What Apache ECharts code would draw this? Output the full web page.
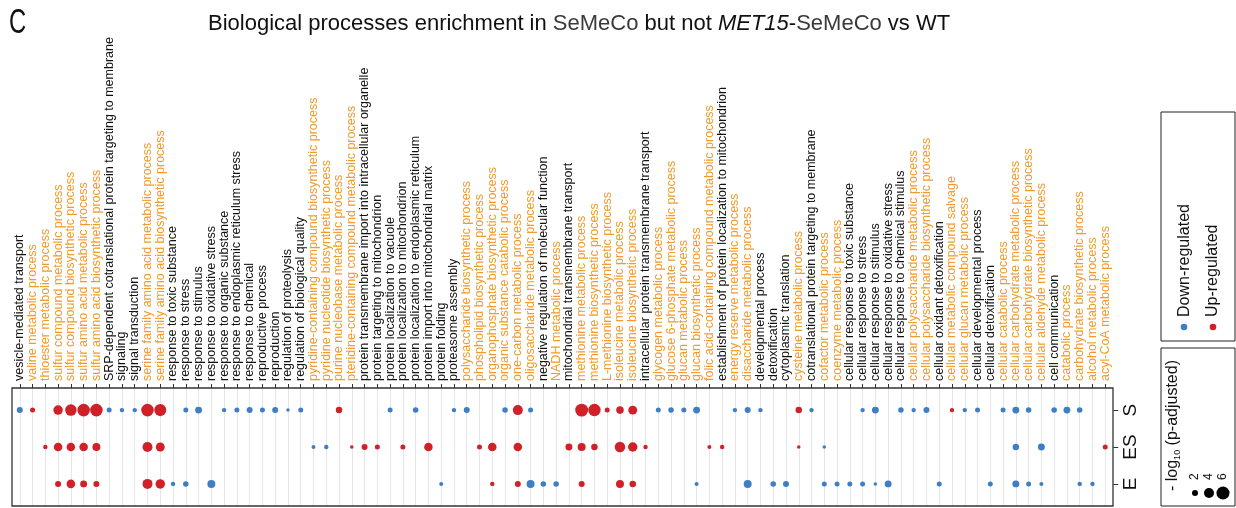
<!DOCTYPE html>
<html><head><meta charset="utf-8">
<script src="https://cdn.jsdelivr.net/npm/echarts@6/dist/echarts.min.js"></script>
<style>html,body{margin:0;padding:0;background:#fff}#c{width:1236px;height:508px}</style>
</head><body><div id="c"></div>
<script>
// ---------------- DATA ----------------
const categories = [
  'vesicle-mediated transport','valine metabolic process','thioester metabolic process',
  'sulfur compound metabolic process','sulfur compound biosynthetic process',
  'sulfur amino acid metabolic process','sulfur amino acid biosynthetic process',
  'SRP-dependent cotranslational protein targeting to membrane','signaling','signal transduction',
  'serine family amino acid metabolic process','serine family amino acid biosynthetic process',
  'response to toxic substance','response to stress','response to stimulus','response to oxidative stress',
  'response to organic substance','response to endoplasmic reticulum stress','response to chemical',
  'reproductive process','reproduction','regulation of proteolysis','regulation of biological quality',
  'pyridine-containing compound biosynthetic process','pyridine nucleotide biosynthetic process',
  'purine nucleobase metabolic process','pteridine-containing compound metabolic process',
  'protein transmembrane import into intracellular organelle','protein targeting to mitochondrion',
  'protein localization to vacuole','protein localization to mitochondrion',
  'protein localization to endoplasmic reticulum','protein import into mitochondrial matrix',
  'protein folding','proteasome assembly','polysaccharide biosynthetic process',
  'phospholipid biosynthetic process','organophosphate biosynthetic process',
  'organic substance catabolic process','one-carbon metabolic process','oligosaccharide metabolic process',
  'negative regulation of molecular function','NADH metabolic process','mitochondrial transmembrane transport',
  'methionine metabolic process','methionine biosynthetic process','L-methionine biosynthetic process',
  'isoleucine metabolic process','isoleucine biosynthetic process','intracellular protein transmembrane transport',
  'glycogen metabolic process','glucose 6-phosphate metabolic process','glucan metabolic process',
  'glucan biosynthetic process','folic acid-containing compound metabolic process',
  'establishment of protein localization to mitochondrion','energy reserve metabolic process',
  'disaccharide metabolic process','developmental process','detoxification','cytoplasmic translation',
  'cysteine metabolic process','cotranslational protein targeting to membrane','cofactor metabolic process',
  'coenzyme metabolic process','cellular response to toxic substance','cellular response to stress',
  'cellular response to stimulus','cellular response to oxidative stress','cellular response to chemical stimulus',
  'cellular polysaccharide metabolic process','cellular polysaccharide biosynthetic process',
  'cellular oxidant detoxification','cellular metabolic compound salvage','cellular glucan metabolic process',
  'cellular developmental process','cellular detoxification','cellular catabolic process',
  'cellular carbohydrate metabolic process','cellular carbohydrate biosynthetic process',
  'cellular aldehyde metabolic process','cell communication','catabolic process',
  'carbohydrate biosynthetic process','alcohol metabolic process','acyl-CoA metabolic process'
];
// 1 = label drawn in orange, 0 = black
const orangeLabel = [
  0,1,1,1,1,1,1,0,0,0,
  1,1,0,0,0,0,0,0,0,0,
  0,0,0,1,1,1,1,0,0,0,
  0,0,0,0,0,1,1,1,1,1,
  1,0,1,0,1,1,1,1,1,0,
  1,1,1,1,1,0,1,1,0,0,
  0,1,0,1,1,0,0,0,0,0,
  1,1,0,1,1,0,0,1,1,1,
  1,0,1,1,1,1
];
const rows = ['E','ES','S'];
// -log10(p-adjusted); positive = Up-regulated, negative = Down-regulated, 0 = not enriched
const valuesS = [
  -2.0, 1.6, 0, 3.7, 4.9, 5.7, 5.7, -1.6, -1.4, -1.4,
  5.7, 5.3, 0, -1.6, -2.4, 0, -1.4, -1.6, -2.0, -1.6,
  -2.0, -1.1, -1.6, 0, 0, 2.2, 0, 0, 0, -1.6,
  0, -1.8, 0, 0, -1.4, -2.0, 0, 0, -1.8, 4.0,
  -1.6, 0, 0, 0, 5.9, 5.6, 1.6, 2.7, 3.4, 0,
  -1.6, -1.8, -1.6, -2.4, 0, 0, -1.4, -2.0, -1.4, 0,
  0, 2.2, -1.4, 0, 0, 0, -1.4, -2.4, 0, -1.8,
  -1.4, -2.0, 0, 1.4, -1.4, -1.6, 0, -1.6, -2.4, -1.8,
  0, -1.8, -2.4, -1.8, 0, 0
];
const valuesES = [
  0, 0, 1.4, 3.2, 3.2, 3.2, 2.9, 0, 0, 0,
  4.0, 3.4, 0, 0, 0, 0, 0, 0, 0, 0,
  0, 0, 0, -1.25, -1.4, 0, 1.1, 2.0, 1.6, 0,
  1.6, 0, 3.2, 0, 0, 0, 1.6, 3.2, 0, 3.2,
  0, 0, 0, 2.4, 2.9, 2.2, 0, 4.3, 3.7, 1.4,
  0, 0, 0, 0, 1.25, 1.4, 0, 0, 0, 0,
  0, 1.1, 0, -1.1, 0, 0, 0, 0, 0, 0,
  0, 0, 0, 0, 0, 0, 0, 0, -2.2, 0,
  -2.4, 0, 0, 0, 0, 1.6
];
const valuesE = [
  0, 0, 0, 2.0, 3.2, 2.4, 2.0, 0, 0, 0,
  4.0, 3.7, -1.4, -1.8, 0, -2.9, 0, 0, 0, 0,
  0, 0, 0, 0, 0, 0, 0, 0, 0, 0,
  0, 0, 0, -1.25, 0, 0, 0, 1.4, 0, 2.0,
  -2.9, -1.8, -1.8, 0, 2.0, 0, 0, 2.9, 2.2, 0,
  0, 0, 0, -1.25, 0, 0, 0, -2.9, 0, -1.8,
  -2.0, 0, 0, -1.6, -1.6, -1.6, -1.6, -1.1, -2.4, 0,
  0, 0, -1.6, 0, 0, 0, -1.6, 0, -2.4, -1.6,
  -1.25, 0, 0, -1.4, -1.4, 0
];
const sizeLegendValues = [2, 4, 6];
const legendNames = ['Down-regulated', 'Up-regulated'];

// ---------------- STYLE ----------------
const FONT = "'Liberation Sans', Arial, Helvetica, sans-serif";
const C_DOWN = '#3F7EC5', C_UP = '#D12028', C_ORANGE = '#F39A2B', C_TEXT = '#111111';
function dotSize(v) { return Math.max(2, 6.8 * Math.sqrt(v) - 3.6); }

const rowValues = { S: valuesS, ES: valuesES, E: valuesE };
const upData = [], downData = [];
rows.forEach(function (r) {
  rowValues[r].forEach(function (v, i) {
    if (v > 0) upData.push([i, r, v]);
    else if (v < 0) downData.push([i, r, -v]);
  });
});

const labelData = categories.map(function (c, i) {
  return { value: c, textStyle: { color: orangeLabel[i] ? C_ORANGE : C_TEXT } };
});

const BAND = 12.77, N = categories.length;
const chart = echarts.init(document.getElementById('c'), null, { renderer: 'canvas' });

const graphics = [
  { type: 'text', x: 9, y: 6, scaleX: 0.68,
    style: { text: 'C', font: 'normal 35px ' + FONT, fill: C_TEXT, align: 'left', verticalAlign: 'top', textAlign: 'left', textVerticalAlign: 'top' } },
  { type: 'rect', z: 50, shape: { x: 12, y: 388, width: 1101, height: 118 },
    style: { fill: 'none', stroke: '#333', lineWidth: 1.3 } },
  // colour legend
  { type: 'rect', z: 50, shape: { x: 1161, y: 112, width: 74, height: 229 },
    style: { fill: 'none', stroke: '#222', lineWidth: 1 } },
  { type: 'text', x: 1185, y: 317, rotation: Math.PI / 2,
    style: { text: legendNames[0], font: '16px ' + FONT, fill: C_TEXT, align: 'left', verticalAlign: 'middle', textAlign: 'left', textVerticalAlign: 'middle' } },
  { type: 'text', x: 1213, y: 317, rotation: Math.PI / 2,
    style: { text: legendNames[1], font: '16px ' + FONT, fill: C_TEXT, align: 'left', verticalAlign: 'middle', textAlign: 'left', textVerticalAlign: 'middle' } },
  { type: 'circle', shape: { cx: 1184, cy: 327, r: 3.3 }, style: { fill: C_DOWN } },
  { type: 'circle', shape: { cx: 1213, cy: 327, r: 3.3 }, style: { fill: C_UP } },
  // size legend
  { type: 'rect', z: 50, shape: { x: 1161, y: 348, width: 74, height: 158 },
    style: { fill: 'none', stroke: '#222', lineWidth: 1 } },
  { type: 'text', x: 1173, y: 491, rotation: Math.PI / 2,
    style: { text: '{a|- log}{b|10}{a| (p-adjusted)}', align: 'left', verticalAlign: 'middle', textAlign: 'left', textVerticalAlign: 'middle',
      rich: { a: { fontSize: 16, fontFamily: FONT, fill: C_TEXT, color: C_TEXT, lineHeight: 18, verticalAlign: 'middle' },
              b: { fontSize: 9, fontFamily: FONT, fill: C_TEXT, color: C_TEXT, lineHeight: 18, verticalAlign: 'bottom' } } } }
];
const sizeX = [1195, 1209, 1223];
sizeLegendValues.forEach(function (v, i) {
  graphics.push({ type: 'circle', shape: { cx: sizeX[i], cy: 493, r: dotSize(v) / 2 }, style: { fill: '#000' } });
  graphics.push({ type: 'text', x: sizeX[i], y: 480, rotation: Math.PI / 2,
    style: { text: String(v), font: '12px ' + FONT, fill: C_TEXT, align: 'left', verticalAlign: 'middle', textAlign: 'left', textVerticalAlign: 'middle' } });
});

const option = {
  animation: false,
  backgroundColor: '#fff',
  textStyle: { fontFamily: FONT },
  title: [
    { text: '{n|Biological processes enrichment in }{g|SeMeCo}{n| but not }{i|MET15}{n|-}{g|SeMeCo}{n| vs WT}',
      left: 203, top: 8,
      textStyle: { fontWeight: 'normal', rich: {
        n: { fontSize: 22, color: C_TEXT, fontFamily: FONT, fontWeight: 'normal' },
        g: { fontSize: 22, color: '#3a3a3a', fontFamily: FONT, fontWeight: 'normal' },
        i: { fontSize: 22, color: C_TEXT, fontStyle: 'italic', fontFamily: FONT, fontWeight: 'normal' } } } }
  ],
  grid: [
    { left: 13.4, top: 391.65, width: BAND * N, height: 110.7, show: false, containLabel: false, outerBoundsMode: 'none' },
    { left: 13.4 + BAND / 2, top: 388, width: BAND * (N - 1), height: 118, show: false, containLabel: false, outerBoundsMode: 'none' }
  ],
  xAxis: [
    { gridIndex: 0, type: 'category', data: categories, show: false },
    { gridIndex: 1, type: 'category', data: labelData, position: 'top', boundaryGap: false,
      axisLine: { show: false, onZero: false },
      axisTick: { show: true, length: 4, lineStyle: { color: '#333', width: 1 } },
      axisLabel: { rotate: -90, interval: 0, fontSize: 12.5, fontFamily: FONT, margin: 7, hideOverlap: false },
      splitLine: { show: true, interval: 0, lineStyle: { color: '#E6E6E6', width: 1 } } }
  ],
  yAxis: [
    { gridIndex: 0, type: 'category', data: rows, position: 'right', offset: 1.6,
      axisLine: { show: false, onZero: false },
      axisTick: { show: true, alignWithLabel: true, length: 5, lineStyle: { color: '#333', width: 1 } },
      axisLabel: { rotate: 90, fontSize: 19, color: C_TEXT, fontFamily: FONT, margin: 8 },
      splitLine: { show: false } },
    { gridIndex: 1, type: 'value', min: 0, max: 1, show: false, splitLine: { show: false } }
  ],
  series: [
    { type: 'scatter', name: legendNames[0], xAxisIndex: 0, yAxisIndex: 0, data: downData,
      symbolSize: function (d) { return dotSize(d[2]); }, itemStyle: { color: C_DOWN, opacity: 1 } },
    { type: 'scatter', name: legendNames[1], xAxisIndex: 0, yAxisIndex: 0, data: upData,
      symbolSize: function (d) { return dotSize(d[2]); }, itemStyle: { color: C_UP, opacity: 1 } },
    { type: 'scatter', xAxisIndex: 1, yAxisIndex: 1, data: [], silent: true }
  ],
  graphic: graphics
};
chart.setOption(option);
</script></body></html>
